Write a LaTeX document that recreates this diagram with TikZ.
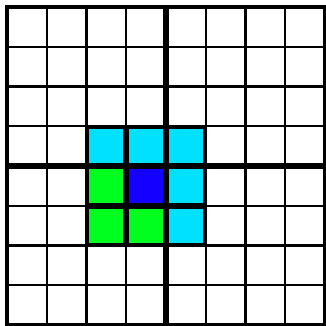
\documentclass[tikz,border=0pt]{standalone}
\definecolor{cellcyan}{RGB}{0,224,255}
\definecolor{cellblue}{RGB}{20,0,255}
\definecolor{cellgreen}{RGB}{0,255,30}
\tikzset{
  thinline/.style={line width=1.4pt},
  blockline/.style={line width=2.85pt},
  midline/.style={line width=5pt}
}
\begin{document}
\begin{tikzpicture}[x=1cm,y=1cm]
\useasboundingbox (-0.176,0) rectangle (8.025,8.176);
% coloured cells, black under an inset fill
\foreach \xx/\yy/\col in {2/4/cellcyan,3/4/cellcyan,4/4/cellcyan,
                          2/3/cellgreen,3/3/cellblue,4/3/cellcyan,
                          2/2/cellgreen,3/2/cellgreen,4/2/cellcyan} {
  \fill[black] (\xx,\yy) rectangle ++(1,1);
  \fill[\col] (\xx+0.075,\yy+0.075) rectangle ++(0.85,0.85);
}
% grid
\foreach \i in {1,3,5,7} {
  \draw[thinline] (\i,0) -- (\i,8);
  \draw[thinline] (0,\i) -- (8,\i);
}
\foreach \i in {2,6} {
  \draw[blockline] (\i,0) -- (\i,8);
  \draw[blockline] (0,\i) -- (8,\i);
}
\draw[midline] (4,0) -- (4,8);
\draw[midline] (0,4) -- (8,4);
\draw[blockline] (0,0) rectangle (8,8);
\end{tikzpicture}
\end{document}
